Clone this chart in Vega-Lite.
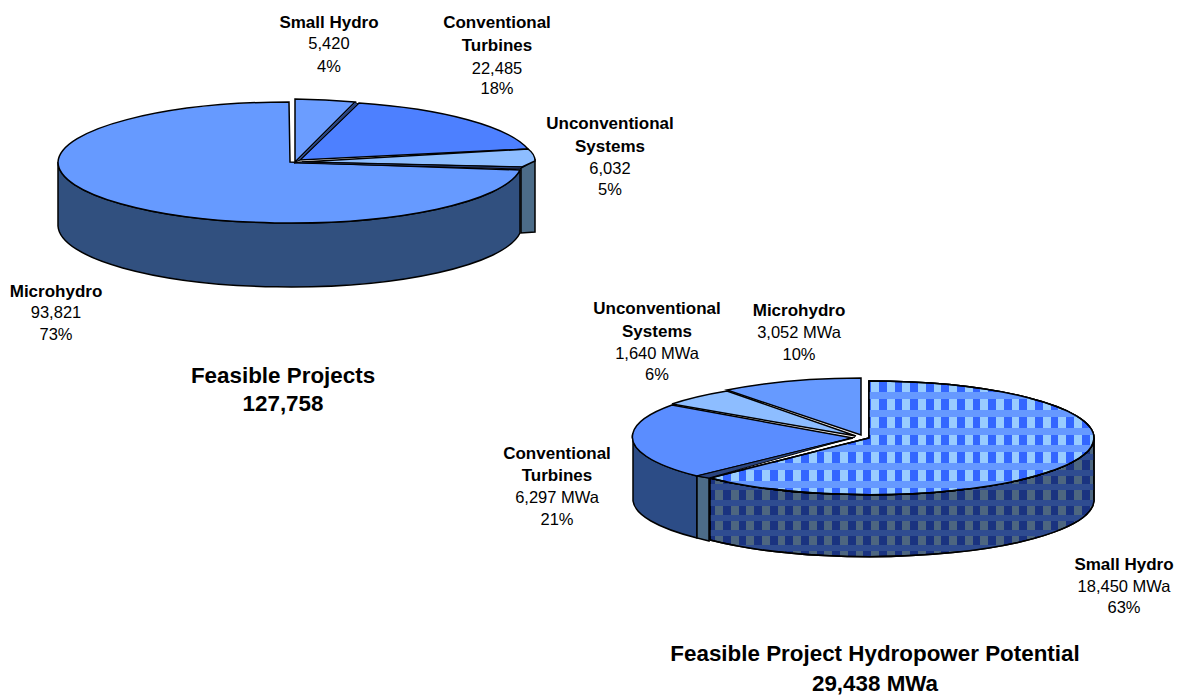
{
"$schema":"https://vega.github.io/schema/vega-lite/v6.json",
"width":1178,"height":696,"padding":0,
"autosize":{"type":"fit","contains":"padding"},
"background":"#ffffff",
"config":{"view":{"stroke":null}},
"datasets":{
"slices":[
{"id":"P Microhydro","pie":"Feasible Projects","slice":"Microhydro","value":93821,"share":73},
{"id":"P Small Hydro","pie":"Feasible Projects","slice":"Small Hydro","value":5420,"share":4},
{"id":"P Conventional Turbines","pie":"Feasible Projects","slice":"Conventional Turbines","value":22485,"share":18},
{"id":"P Unconventional Systems","pie":"Feasible Projects","slice":"Unconventional Systems","value":6032,"share":5},
{"id":"H Small Hydro","pie":"Hydropower Potential","slice":"Small Hydro","value":18450,"share":63},
{"id":"H Conventional Turbines","pie":"Hydropower Potential","slice":"Conventional Turbines","value":6297,"share":21},
{"id":"H Unconventional Systems","pie":"Hydropower Potential","slice":"Unconventional Systems","value":1640,"share":6},
{"id":"H Microhydro","pie":"Hydropower Potential","slice":"Microhydro","value":3052,"share":10}
],
"labels":[
{"line":"Small Hydro","kind":"name","lx":329,"ly":21},
{"line":"5,420","kind":"value","lx":329,"ly":42},
{"line":"4%","kind":"value","lx":329,"ly":65},
{"line":"Conventional","kind":"name","lx":497,"ly":21},
{"line":"Turbines","kind":"name","lx":497,"ly":44},
{"line":"22,485","kind":"value","lx":497,"ly":67},
{"line":"18%","kind":"value","lx":497,"ly":88},
{"line":"Unconventional","kind":"name","lx":610,"ly":123},
{"line":"Systems","kind":"name","lx":610,"ly":146},
{"line":"6,032","kind":"value","lx":610,"ly":168},
{"line":"5%","kind":"value","lx":610,"ly":189},
{"line":"Microhydro","kind":"name","lx":56,"ly":292},
{"line":"93,821","kind":"value","lx":56,"ly":313},
{"line":"73%","kind":"value","lx":56,"ly":335},
{"line":"Unconventional","kind":"name","lx":657,"ly":309},
{"line":"Systems","kind":"name","lx":657,"ly":332},
{"line":"1,640 MWa","kind":"value","lx":657,"ly":354},
{"line":"6%","kind":"value","lx":657,"ly":375},
{"line":"Microhydro","kind":"name","lx":799,"ly":311},
{"line":"3,052 MWa","kind":"value","lx":799,"ly":333},
{"line":"10%","kind":"value","lx":799,"ly":355},
{"line":"Conventional","kind":"name","lx":557,"ly":455},
{"line":"Turbines","kind":"name","lx":557,"ly":477},
{"line":"6,297 MWa","kind":"value","lx":557,"ly":499},
{"line":"21%","kind":"value","lx":557,"ly":521},
{"line":"Small Hydro","kind":"name","lx":1124,"ly":566},
{"line":"18,450 MWa","kind":"value","lx":1124,"ly":588},
{"line":"63%","kind":"value","lx":1124,"ly":610},
{"line":"Feasible Projects","kind":"title","lx":283,"ly":376},
{"line":"127,758","kind":"title","lx":283,"ly":404},
{"line":"Feasible Project Hydropower Potential","kind":"title","lx":875,"ly":656},
{"line":"29,438 MWa","kind":"title","lx":875,"ly":686}
]},
"encoding":{},
"layer":[
{"data":{"name":"slices"},
 "transform":[{"filter":"datum.id==='P Microhydro'||datum.id==='P Unconventional Systems'||datum.id==='H Conventional Turbines'"}],
 "mark":{"type":"point","filled":true,"opacity":1,"size":4,"stroke":"#000000","strokeWidth":1.5},
 "encoding":{
  "x":{"field":"pie","type":"nominal","axis":null,"scale":{"domain":["Feasible Projects","Hydropower Potential"],"range":[290,869],"padding":0}},
  "y":{"field":"pie","type":"nominal","axis":null,"scale":{"domain":["Feasible Projects","Hydropower Potential"],"range":[162,438],"padding":0}},
  "color":{"field":"id","type":"nominal","legend":null,"scale":{"domain":["P Microhydro","P Unconventional Systems","H Conventional Turbines"],"range":["#31507F","#4C6C88","#2C4C86"]}},
  "shape":{"field":"id","type":"nominal","legend":null,"scale":{"domain":["P Microhydro","P Unconventional Systems","H Conventional Turbines"],"range":[
   "M-232 0L-232 64A232 62 0 0 0 230 71L230 8A232 61 0 0 1 -232 0Z",
   "M231 6L245 -2L245 70L231 71Z",
   "M-236 -5L-236 63A220 55 0 0 0 -172 100L-172 38A220 55 0 0 1 -236 -5Z"]}}
 }},
{"data":{"name":"slices"},
 "transform":[{"filter":"datum.id==='H Small Hydro'"}],
 "mark":{"type":"point","filled":true,"opacity":1,"size":4,"stroke":"#000000","strokeWidth":1.5,
  "fill":{"gradient":"linear","x1":0,"y1":0,"x2":1,"y2":0,"stops":[
{"offset":0,"color":"#1a3380"},{"offset":0.0135,"color":"#1a3380"},{"offset":0.0135,"color":"#4d6680"},{"offset":0.0338,"color":"#4d6680"},{"offset":0.0338,"color":"#1a3380"},{"offset":0.0541,"color":"#1a3380"},{"offset":0.0541,"color":"#4d6680"},{"offset":0.0744,"color":"#4d6680"},{"offset":0.0744,"color":"#1a3380"},{"offset":0.0948,"color":"#1a3380"},{"offset":0.0948,"color":"#4d6680"},{"offset":0.1151,"color":"#4d6680"},{"offset":0.1151,"color":"#1a3380"},{"offset":0.1354,"color":"#1a3380"},{"offset":0.1354,"color":"#4d6680"},{"offset":0.1557,"color":"#4d6680"},{"offset":0.1557,"color":"#1a3380"},{"offset":0.176,"color":"#1a3380"},{"offset":0.176,"color":"#4d6680"},{"offset":0.1963,"color":"#4d6680"},{"offset":0.1963,"color":"#1a3380"},{"offset":0.2166,"color":"#1a3380"},{"offset":0.2166,"color":"#4d6680"},{"offset":0.2369,"color":"#4d6680"},{"offset":0.2369,"color":"#1a3380"},{"offset":0.2573,"color":"#1a3380"},{"offset":0.2573,"color":"#4d6680"},{"offset":0.2776,"color":"#4d6680"},{"offset":0.2776,"color":"#1a3380"},{"offset":0.2979,"color":"#1a3380"},{"offset":0.2979,"color":"#4d6680"},{"offset":0.3182,"color":"#4d6680"},{"offset":0.3182,"color":"#1a3380"},{"offset":0.3385,"color":"#1a3380"},{"offset":0.3385,"color":"#4d6680"},{"offset":0.3588,"color":"#4d6680"},{"offset":0.3588,"color":"#1a3380"},{"offset":0.3791,"color":"#1a3380"},{"offset":0.3791,"color":"#4d6680"},{"offset":0.3994,"color":"#4d6680"},{"offset":0.3994,"color":"#1a3380"},{"offset":0.4198,"color":"#1a3380"},{"offset":0.4198,"color":"#4d6680"},{"offset":0.4401,"color":"#4d6680"},{"offset":0.4401,"color":"#1a3380"},{"offset":0.4604,"color":"#1a3380"},{"offset":0.4604,"color":"#4d6680"},{"offset":0.4807,"color":"#4d6680"},{"offset":0.4807,"color":"#1a3380"},{"offset":0.501,"color":"#1a3380"},{"offset":0.501,"color":"#4d6680"},{"offset":0.5213,"color":"#4d6680"},{"offset":0.5213,"color":"#1a3380"},{"offset":0.5416,"color":"#1a3380"},{"offset":0.5416,"color":"#4d6680"},{"offset":0.5619,"color":"#4d6680"},{"offset":0.5619,"color":"#1a3380"},{"offset":0.5823,"color":"#1a3380"},{"offset":0.5823,"color":"#4d6680"},{"offset":0.6026,"color":"#4d6680"},{"offset":0.6026,"color":"#1a3380"},{"offset":0.6229,"color":"#1a3380"},{"offset":0.6229,"color":"#4d6680"},{"offset":0.6432,"color":"#4d6680"},{"offset":0.6432,"color":"#1a3380"},{"offset":0.6635,"color":"#1a3380"},{"offset":0.6635,"color":"#4d6680"},{"offset":0.6838,"color":"#4d6680"},{"offset":0.6838,"color":"#1a3380"},{"offset":0.7041,"color":"#1a3380"},{"offset":0.7041,"color":"#4d6680"},{"offset":0.7244,"color":"#4d6680"},{"offset":0.7244,"color":"#1a3380"},{"offset":0.7448,"color":"#1a3380"},{"offset":0.7448,"color":"#4d6680"},{"offset":0.7651,"color":"#4d6680"},{"offset":0.7651,"color":"#1a3380"},{"offset":0.7854,"color":"#1a3380"},{"offset":0.7854,"color":"#4d6680"},{"offset":0.8057,"color":"#4d6680"},{"offset":0.8057,"color":"#1a3380"},{"offset":0.826,"color":"#1a3380"},{"offset":0.826,"color":"#4d6680"},{"offset":0.8463,"color":"#4d6680"},{"offset":0.8463,"color":"#1a3380"},{"offset":0.8666,"color":"#1a3380"},{"offset":0.8666,"color":"#4d6680"},{"offset":0.8869,"color":"#4d6680"},{"offset":0.8869,"color":"#1a3380"},{"offset":0.9073,"color":"#1a3380"},{"offset":0.9073,"color":"#4d6680"},{"offset":0.9276,"color":"#4d6680"},{"offset":0.9276,"color":"#1a3380"},{"offset":0.9479,"color":"#1a3380"},{"offset":0.9479,"color":"#4d6680"},{"offset":0.9682,"color":"#4d6680"},{"offset":0.9682,"color":"#1a3380"},{"offset":0.9885,"color":"#1a3380"},{"offset":0.9885,"color":"#4d6680"},{"offset":1,"color":"#4d6680"}
  ]}},
 "encoding":{
  "x":{"field":"pie","type":"nominal","axis":null,"scale":{"domain":["Feasible Projects","Hydropower Potential"],"range":[290,869],"padding":0}},
  "y":{"field":"pie","type":"nominal","axis":null,"scale":{"domain":["Feasible Projects","Hydropower Potential"],"range":[162,438],"padding":0}},
  "shape":{"field":"id","type":"nominal","legend":null,"scale":{"domain":["H Small Hydro"],"range":["M225 0L225 63A225 57 0 0 1 -159 102L-159 40A225 57 0 0 0 225 0Z"]}}
 }},
{"data":{"name":"slices"},
 "transform":[{"filter":"datum.id==='H Small Hydro'"}],
 "mark":{"type":"point","filled":true,"opacity":1,"size":4,"stroke":"#000000","strokeWidth":1.5,
  "fill":{"gradient":"linear","x1":0,"y1":0,"x2":0,"y2":1,"stops":[
{"offset":0,"color":"rgba(47,76,144,0)"},{"offset":0.1333,"color":"rgba(47,76,144,0)"},{"offset":0.1333,"color":"#2f4c90"},{"offset":0.1833,"color":"#2f4c90"},{"offset":0.1833,"color":"rgba(47,76,144,0)"},{"offset":0.2667,"color":"rgba(47,76,144,0)"},{"offset":0.2667,"color":"#2f4c90"},{"offset":0.3167,"color":"#2f4c90"},{"offset":0.3167,"color":"rgba(47,76,144,0)"},{"offset":0.3917,"color":"rgba(47,76,144,0)"},{"offset":0.3917,"color":"#2f4c90"},{"offset":0.4417,"color":"#2f4c90"},{"offset":0.4417,"color":"rgba(47,76,144,0)"},{"offset":0.525,"color":"rgba(47,76,144,0)"},{"offset":0.525,"color":"#2f4c90"},{"offset":0.575,"color":"#2f4c90"},{"offset":0.575,"color":"rgba(47,76,144,0)"},{"offset":0.65,"color":"rgba(47,76,144,0)"},{"offset":0.65,"color":"#2f4c90"},{"offset":0.7,"color":"#2f4c90"},{"offset":0.7,"color":"rgba(47,76,144,0)"},{"offset":0.775,"color":"rgba(47,76,144,0)"},{"offset":0.775,"color":"#2f4c90"},{"offset":0.825,"color":"#2f4c90"},{"offset":0.825,"color":"rgba(47,76,144,0)"},{"offset":0.9,"color":"rgba(47,76,144,0)"},{"offset":0.9,"color":"#2f4c90"},{"offset":0.95,"color":"#2f4c90"},{"offset":0.95,"color":"rgba(47,76,144,0)"},{"offset":1,"color":"rgba(47,76,144,0)"}
  ]}},
 "encoding":{
  "x":{"field":"pie","type":"nominal","axis":null,"scale":{"domain":["Feasible Projects","Hydropower Potential"],"range":[290,869],"padding":0}},
  "y":{"field":"pie","type":"nominal","axis":null,"scale":{"domain":["Feasible Projects","Hydropower Potential"],"range":[162,438],"padding":0}},
  "shape":{"field":"id","type":"nominal","legend":null,"scale":{"domain":["H Small Hydro"],"range":["M225 0L225 63A225 57 0 0 1 -159 102L-159 40A225 57 0 0 0 225 0Z"]}}
 }},
{"data":{"name":"slices"},
 "transform":[{"filter":"datum.id==='H Conventional Turbines'"}],
 "mark":{"type":"point","filled":true,"opacity":1,"size":4,"stroke":"#000000","strokeWidth":1.5,"fill":"#4C6C88"},
 "encoding":{
  "x":{"field":"pie","type":"nominal","axis":null,"scale":{"domain":["Feasible Projects","Hydropower Potential"],"range":[290,869],"padding":0}},
  "y":{"field":"pie","type":"nominal","axis":null,"scale":{"domain":["Feasible Projects","Hydropower Potential"],"range":[162,438],"padding":0}},
  "shape":{"field":"id","type":"nominal","legend":null,"scale":{"domain":["H Conventional Turbines"],"range":["M-172 38L-160 40L-160 103L-172 100Z"]}}
 }},
{"data":{"name":"slices"},
 "mark":{"type":"point","filled":true,"opacity":1,"size":4,"stroke":"#000000","strokeWidth":1.5},
 "encoding":{
  "x":{"field":"pie","type":"nominal","axis":null,"scale":{"domain":["Feasible Projects","Hydropower Potential"],"range":[290,869],"padding":0}},
  "y":{"field":"pie","type":"nominal","axis":null,"scale":{"domain":["Feasible Projects","Hydropower Potential"],"range":[162,438],"padding":0}},
  "color":{"field":"id","type":"nominal","legend":null,"scale":{"domain":["P Microhydro","P Small Hydro","P Conventional Turbines","P Unconventional Systems","H Small Hydro","H Conventional Turbines","H Unconventional Systems","H Microhydro"],"range":["#669AFF","#6B9DFF","#4D80FF","#8DBDFF","#669AFF","#5A8DFF","#8DBDFF","#669AFF"]}},
  "shape":{"field":"id","type":"nominal","legend":null,"scale":{"domain":["P Microhydro","P Small Hydro","P Conventional Turbines","P Unconventional Systems","H Small Hydro","H Conventional Turbines","H Unconventional Systems","H Microhydro"],"range":[
   "M0 0L-1 -60A232 61 0 0 0 -232 0A232 61 0 0 0 230 8Z",
   "M5 0L5 -63A233 62 0 0 1 65 -60Z",
   "M10 -2L69 -59A233 62 0 0 1 238 -13Z",
   "M12 0L238 -13Q245 -8 245 -1L232 5Z",
   "M0 0L0 -57A225 57 0 0 1 225 0A225 57 0 0 1 -159 40Z",
   "M-16 0L-197 -33A220 55 0 0 0 -236 -5A220 55 0 0 0 -172 38Z",
   "M-13 -2L-197 -34A220 55 0 0 1 -142 -47Z",
   "M-8 -3L-8 -60A220 57 0 0 0 -142 -48Z"]}}
 }},
{"data":{"name":"slices"},
 "transform":[{"filter":"datum.id==='H Small Hydro'"}],
 "mark":{"type":"point","filled":true,"opacity":1,"size":4,"stroke":"#000000","strokeWidth":1.5,
  "fill":{"gradient":"linear","x1":0,"y1":0,"x2":1,"y2":0,"stops":[
{"offset":0,"color":"#36f"},{"offset":0.0135,"color":"#36f"},{"offset":0.0135,"color":"#9cf"},{"offset":0.0338,"color":"#9cf"},{"offset":0.0338,"color":"#36f"},{"offset":0.0541,"color":"#36f"},{"offset":0.0541,"color":"#9cf"},{"offset":0.0744,"color":"#9cf"},{"offset":0.0744,"color":"#36f"},{"offset":0.0948,"color":"#36f"},{"offset":0.0948,"color":"#9cf"},{"offset":0.1151,"color":"#9cf"},{"offset":0.1151,"color":"#36f"},{"offset":0.1354,"color":"#36f"},{"offset":0.1354,"color":"#9cf"},{"offset":0.1557,"color":"#9cf"},{"offset":0.1557,"color":"#36f"},{"offset":0.176,"color":"#36f"},{"offset":0.176,"color":"#9cf"},{"offset":0.1963,"color":"#9cf"},{"offset":0.1963,"color":"#36f"},{"offset":0.2166,"color":"#36f"},{"offset":0.2166,"color":"#9cf"},{"offset":0.2369,"color":"#9cf"},{"offset":0.2369,"color":"#36f"},{"offset":0.2573,"color":"#36f"},{"offset":0.2573,"color":"#9cf"},{"offset":0.2776,"color":"#9cf"},{"offset":0.2776,"color":"#36f"},{"offset":0.2979,"color":"#36f"},{"offset":0.2979,"color":"#9cf"},{"offset":0.3182,"color":"#9cf"},{"offset":0.3182,"color":"#36f"},{"offset":0.3385,"color":"#36f"},{"offset":0.3385,"color":"#9cf"},{"offset":0.3588,"color":"#9cf"},{"offset":0.3588,"color":"#36f"},{"offset":0.3791,"color":"#36f"},{"offset":0.3791,"color":"#9cf"},{"offset":0.3994,"color":"#9cf"},{"offset":0.3994,"color":"#36f"},{"offset":0.4198,"color":"#36f"},{"offset":0.4198,"color":"#9cf"},{"offset":0.4401,"color":"#9cf"},{"offset":0.4401,"color":"#36f"},{"offset":0.4604,"color":"#36f"},{"offset":0.4604,"color":"#9cf"},{"offset":0.4807,"color":"#9cf"},{"offset":0.4807,"color":"#36f"},{"offset":0.501,"color":"#36f"},{"offset":0.501,"color":"#9cf"},{"offset":0.5213,"color":"#9cf"},{"offset":0.5213,"color":"#36f"},{"offset":0.5416,"color":"#36f"},{"offset":0.5416,"color":"#9cf"},{"offset":0.5619,"color":"#9cf"},{"offset":0.5619,"color":"#36f"},{"offset":0.5823,"color":"#36f"},{"offset":0.5823,"color":"#9cf"},{"offset":0.6026,"color":"#9cf"},{"offset":0.6026,"color":"#36f"},{"offset":0.6229,"color":"#36f"},{"offset":0.6229,"color":"#9cf"},{"offset":0.6432,"color":"#9cf"},{"offset":0.6432,"color":"#36f"},{"offset":0.6635,"color":"#36f"},{"offset":0.6635,"color":"#9cf"},{"offset":0.6838,"color":"#9cf"},{"offset":0.6838,"color":"#36f"},{"offset":0.7041,"color":"#36f"},{"offset":0.7041,"color":"#9cf"},{"offset":0.7244,"color":"#9cf"},{"offset":0.7244,"color":"#36f"},{"offset":0.7448,"color":"#36f"},{"offset":0.7448,"color":"#9cf"},{"offset":0.7651,"color":"#9cf"},{"offset":0.7651,"color":"#36f"},{"offset":0.7854,"color":"#36f"},{"offset":0.7854,"color":"#9cf"},{"offset":0.8057,"color":"#9cf"},{"offset":0.8057,"color":"#36f"},{"offset":0.826,"color":"#36f"},{"offset":0.826,"color":"#9cf"},{"offset":0.8463,"color":"#9cf"},{"offset":0.8463,"color":"#36f"},{"offset":0.8666,"color":"#36f"},{"offset":0.8666,"color":"#9cf"},{"offset":0.8869,"color":"#9cf"},{"offset":0.8869,"color":"#36f"},{"offset":0.9073,"color":"#36f"},{"offset":0.9073,"color":"#9cf"},{"offset":0.9276,"color":"#9cf"},{"offset":0.9276,"color":"#36f"},{"offset":0.9479,"color":"#36f"},{"offset":0.9479,"color":"#9cf"},{"offset":0.9682,"color":"#9cf"},{"offset":0.9682,"color":"#36f"},{"offset":0.9885,"color":"#36f"},{"offset":0.9885,"color":"#9cf"},{"offset":1,"color":"#9cf"}
  ]}},
 "encoding":{
  "x":{"field":"pie","type":"nominal","axis":null,"scale":{"domain":["Feasible Projects","Hydropower Potential"],"range":[290,869],"padding":0}},
  "y":{"field":"pie","type":"nominal","axis":null,"scale":{"domain":["Feasible Projects","Hydropower Potential"],"range":[162,438],"padding":0}},
  "shape":{"field":"id","type":"nominal","legend":null,"scale":{"domain":["H Small Hydro"],"range":["M0 0L0 -57A225 57 0 0 1 225 0A225 57 0 0 1 -159 40Z"]}}
 }},
{"data":{"name":"slices"},
 "transform":[{"filter":"datum.id==='H Small Hydro'"}],
 "mark":{"type":"point","filled":true,"opacity":1,"size":4,"stroke":"#000000","strokeWidth":1.5,
  "fill":{"gradient":"linear","x1":0,"y1":0,"x2":0,"y2":1,"stops":[
{"offset":0,"color":"rgba(102,153,255,0)"},{"offset":0.0928,"color":"rgba(102,153,255,0)"},{"offset":0.0928,"color":"#69f"},{"offset":0.1546,"color":"#69f"},{"offset":0.1546,"color":"rgba(102,153,255,0)"},{"offset":0.2526,"color":"rgba(102,153,255,0)"},{"offset":0.2526,"color":"#69f"},{"offset":0.3144,"color":"#69f"},{"offset":0.3144,"color":"rgba(102,153,255,0)"},{"offset":0.4103,"color":"rgba(102,153,255,0)"},{"offset":0.4103,"color":"#69f"},{"offset":0.4722,"color":"#69f"},{"offset":0.4722,"color":"rgba(102,153,255,0)"},{"offset":0.567,"color":"rgba(102,153,255,0)"},{"offset":0.567,"color":"#69f"},{"offset":0.6289,"color":"#69f"},{"offset":0.6289,"color":"rgba(102,153,255,0)"},{"offset":0.7216,"color":"rgba(102,153,255,0)"},{"offset":0.7216,"color":"#69f"},{"offset":0.7835,"color":"#69f"},{"offset":0.7835,"color":"rgba(102,153,255,0)"},{"offset":0.8814,"color":"rgba(102,153,255,0)"},{"offset":0.8814,"color":"#69f"},{"offset":0.9433,"color":"#69f"},{"offset":0.9433,"color":"rgba(102,153,255,0)"},{"offset":1,"color":"rgba(102,153,255,0)"}
  ]}},
 "encoding":{
  "x":{"field":"pie","type":"nominal","axis":null,"scale":{"domain":["Feasible Projects","Hydropower Potential"],"range":[290,869],"padding":0}},
  "y":{"field":"pie","type":"nominal","axis":null,"scale":{"domain":["Feasible Projects","Hydropower Potential"],"range":[162,438],"padding":0}},
  "shape":{"field":"id","type":"nominal","legend":null,"scale":{"domain":["H Small Hydro"],"range":["M0 0L0 -57A225 57 0 0 1 225 0A225 57 0 0 1 -159 40Z"]}}
 }},
{"data":{"name":"slices"},
 "transform":[{"filter":"datum.id==='P Small Hydro'||datum.id==='P Unconventional Systems'||datum.id==='H Conventional Turbines'"}],
 "mark":{"type":"point","filled":true,"opacity":1,"size":4,"stroke":"#000000","strokeWidth":1,"fill":"#2B4580"},
 "encoding":{
  "x":{"field":"pie","type":"nominal","axis":null,"scale":{"domain":["Feasible Projects","Hydropower Potential"],"range":[290,869],"padding":0}},
  "y":{"field":"pie","type":"nominal","axis":null,"scale":{"domain":["Feasible Projects","Hydropower Potential"],"range":[162,438],"padding":0}},
  "shape":{"field":"id","type":"nominal","legend":null,"scale":{"domain":["P Small Hydro","P Unconventional Systems","H Conventional Turbines"],"range":[
   "M5 0L65 -60L68 -58L10 -2Z",
   "M4 1L230 7L232 5L12 0Z",
   "M-172 38L-14 -1L-160 40Z"]}}
 }},
{"data":{"name":"labels"},"transform":[{"filter":"datum.kind==='name'"}],
 "mark":{"type":"text","font":"Liberation Sans","fontSize":17,"fontWeight":"bold","color":"#000000","align":"center","baseline":"middle","dy":2},
 "encoding":{
  "x":{"field":"lx","type":"quantitative","axis":null,"scale":{"domain":[0,1178]}},
  "y":{"field":"ly","type":"quantitative","axis":null,"scale":{"domain":[0,696],"reverse":true}},
  "text":{"field":"line"}}},
{"data":{"name":"labels"},"transform":[{"filter":"datum.kind==='value'"}],
 "mark":{"type":"text","font":"Liberation Sans","fontSize":16.5,"color":"#000000","align":"center","baseline":"middle","dy":2},
 "encoding":{
  "x":{"field":"lx","type":"quantitative","axis":null,"scale":{"domain":[0,1178]}},
  "y":{"field":"ly","type":"quantitative","axis":null,"scale":{"domain":[0,696],"reverse":true}},
  "text":{"field":"line"}}},
{"data":{"name":"labels"},"transform":[{"filter":"datum.kind==='title'"}],
 "mark":{"type":"text","font":"Liberation Sans","fontSize":22.4,"fontWeight":"bold","color":"#000000","align":"center","baseline":"middle","dy":2},
 "encoding":{
  "x":{"field":"lx","type":"quantitative","axis":null,"scale":{"domain":[0,1178]}},
  "y":{"field":"ly","type":"quantitative","axis":null,"scale":{"domain":[0,696],"reverse":true}},
  "text":{"field":"line"}}}
],
"resolve":{"scale":{"x":"independent","y":"independent","color":"independent","shape":"independent"}}
}
